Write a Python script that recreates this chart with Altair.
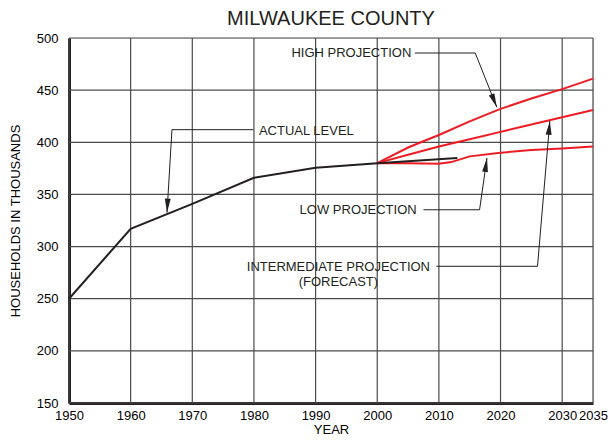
import altair as alt
import pandas as pd

# ---- data ----
actual_years = [1950, 1960, 1970, 1980, 1990, 2000, 2013]
actual_vals = [250, 317, 341, 366, 375.5, 380, 385]

proj_years = [2000, 2005, 2010, 2015, 2020, 2025, 2030, 2035]
high_vals = [380, 395, 407, 420, 432, 442, 451, 461]
inter_vals = [380, 388, 396, 403, 410, 417, 424, 431]

low_years = [2000, 2005, 2010, 2012, 2015, 2020, 2025, 2030, 2035]
low_vals = [380, 380, 379.5, 381, 386.5, 390, 392.5, 394, 396]

x_ticks = [1950, 1960, 1970, 1980, 1990, 2000, 2010, 2020, 2030, 2035]
y_ticks = [150, 200, 250, 300, 350, 400, 450, 500]

# annotation labels (data coordinates)
label_text = ["HIGH PROJECTION", "ACTUAL LEVEL", "LOW PROJECTION",
              "INTERMEDIATE PROJECTION", "(FORECAST)"]
label_year = [1995.8, 1988.5, 1996.9, 1993.7, 1993.7]
label_val = [485.6, 411.1, 335.3, 280.1, 265.7]

# leader lines: (group, year, value) polylines ending at arrow tips
lead_group = ["high"] * 3 + ["actual"] * 3 + ["low"] * 3 + ["inter"] * 3
lead_year = [2006.1, 2015.9, 2019.4,
             1979.9, 1966.7, 1965.9,
             2007.5, 2016.6, 2017.8,
             2009.6, 2026.0, 2028.0]
lead_val = [485.6, 485.6, 433.5,
            412.1, 412.1, 332.5,
            335.3, 335.3, 385.0,
            281.1, 281.1, 420.5]

arrow_year = [2019.4, 1965.9, 2017.8, 2028.0]
arrow_val = [433.5, 332.5, 385.0, 420.5]
arrow_angle = [158, 183, 8, 5]

# ---- tables ----
rows = []
for y, v in zip(actual_years, actual_vals):
    rows.append({"series": "Actual", "year": y, "value": v})
df_actual = pd.DataFrame(rows)

rows = []
for y, v in zip(proj_years, high_vals):
    rows.append({"series": "High", "year": y, "value": v})
for y, v in zip(proj_years, inter_vals):
    rows.append({"series": "Intermediate", "year": y, "value": v})
for y, v in zip(low_years, low_vals):
    rows.append({"series": "Low", "year": y, "value": v})
df_proj = pd.DataFrame(rows)

df_labels = pd.DataFrame({"label": label_text, "year": label_year, "value": label_val})
df_lead = pd.DataFrame({"group": lead_group, "year": lead_year, "value": lead_val,
                        "order": list(range(len(lead_year)))})
df_arrow = pd.DataFrame({"year": arrow_year, "value": arrow_val, "angle": arrow_angle})
df_xgrid = pd.DataFrame({"year": x_ticks})
df_ygrid = pd.DataFrame({"value": y_ticks})

FONT = "Liberation Sans"
TXT = "#231f20"
GRID = "#4a4a4a"

xscale = alt.Scale(domain=[1950, 2035], nice=False, zero=False)
yscale = alt.Scale(domain=[150, 500], nice=False, zero=False)

xenc = alt.X("year:Q", scale=xscale,
             axis=alt.Axis(values=x_ticks, title="YEAR", grid=False, format="d",
                           labelOverlap=False,
                           ticks=False, labelPadding=6, labelFontSize=13,
                           titleFontSize=13, titleFontWeight="normal",
                           titlePadding=1, domainWidth=3, domainColor=TXT,
                           labelFlush=False))
yenc = alt.Y("value:Q", scale=yscale,
             axis=alt.Axis(values=y_ticks, title="HOUSEHOLDS IN THOUSANDS", grid=False,
                           ticks=False, labelPadding=11, labelFontSize=13,
                           titleFontSize=13, titleFontWeight="normal",
                           titlePadding=14, domainWidth=3, domainColor=TXT))

xgrid = alt.Chart(df_xgrid).mark_rule(color=GRID, strokeWidth=1.2).encode(x=xenc)
ygrid = alt.Chart(df_ygrid).mark_rule(color=GRID, strokeWidth=1.2).encode(y=yenc)

proj = alt.Chart(df_proj).mark_line(color="#ed1c24", strokeWidth=2).encode(
    x=xenc, y=yenc, detail="series:N")
act = alt.Chart(df_actual).mark_line(color=TXT, strokeWidth=2).encode(
    x=xenc, y=yenc)
lead = alt.Chart(df_lead).mark_line(color=TXT, strokeWidth=1).encode(
    x=xenc, y=yenc, detail="group:N", order="order:Q")
arrows = alt.Chart(df_arrow).mark_point(
    shape="M0,0L0.42,2L-0.42,2Z", filled=True, size=196, color=TXT, opacity=1
).encode(x=xenc, y=yenc, angle=alt.Angle("angle:Q", scale=None))
labels = alt.Chart(df_labels).mark_text(
    font=FONT, fontSize=13, color=TXT, align="center", baseline="middle"
).encode(x=xenc, y=yenc, text="label:N")

chart = alt.layer(xgrid, ygrid, proj, act, lead, arrows, labels).properties(
    width=524, height=365,
    title=alt.TitleParams("MILWAUKEE COUNTY", fontSize=20, font=FONT,
                          fontWeight="normal", color=TXT, offset=3, anchor="middle"),
    autosize=alt.AutoSizeParams(type="none"),
    padding={"left": 61, "top": 30, "right": 15, "bottom": 35},
).configure_view(stroke=TXT, strokeWidth=1).configure_axis(
    labelFont=FONT, titleFont=FONT, labelColor=TXT, titleColor=TXT,
).configure(background="white")

chart.save("out.html", embed_options={"renderer": "svg", "actions": False})
